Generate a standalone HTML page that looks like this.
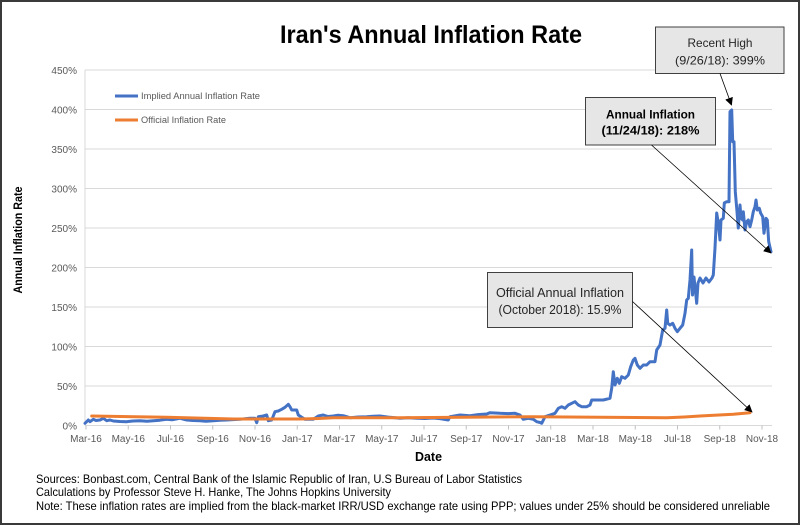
<!DOCTYPE html>
<html><head><meta charset="utf-8"><style>
html,body{margin:0;padding:0;background:#fff;}
svg{display:block;}
</style></head><body>
<svg width="800" height="525" viewBox="0 0 800 525" xmlns="http://www.w3.org/2000/svg" font-family="'Liberation Sans', sans-serif">
<defs>
<marker id="ah" viewBox="0 0 10 10" refX="9" refY="5" markerWidth="8" markerHeight="8" markerUnits="userSpaceOnUse" orient="auto"><path d="M0,0 L10,5 L0,10 z" fill="#000"/></marker>
</defs>
<rect x="0" y="0" width="800" height="525" fill="#fff"/>
<rect x="1" y="1" width="798" height="523" fill="none" stroke="#3a3a3a" stroke-width="2"/>

<text x="280" y="43" font-size="25" font-weight="bold" fill="#000" textLength="302" lengthAdjust="spacingAndGlyphs">Iran's Annual Inflation Rate</text>

<g stroke="#d9d9d9" stroke-width="1">
<line x1="85" y1="70" x2="772" y2="70"/>
<line x1="85" y1="109.5" x2="772" y2="109.5"/>
<line x1="85" y1="149" x2="772" y2="149"/>
<line x1="85" y1="188.5" x2="772" y2="188.5"/>
<line x1="85" y1="228" x2="772" y2="228"/>
<line x1="85" y1="267.5" x2="772" y2="267.5"/>
<line x1="85" y1="307" x2="772" y2="307"/>
<line x1="85" y1="346.5" x2="772" y2="346.5"/>
<line x1="85" y1="386" x2="772" y2="386"/>
<line x1="85" y1="425.5" x2="772" y2="425.5"/>
<line x1="85" y1="70" x2="85" y2="425.5"/>
</g>
<g stroke="#bfbfbf" stroke-width="1">
<line x1="86" y1="425.5" x2="86" y2="429.5"/><line x1="128.25" y1="425.5" x2="128.25" y2="429.5"/><line x1="170.5" y1="425.5" x2="170.5" y2="429.5"/><line x1="212.75" y1="425.5" x2="212.75" y2="429.5"/><line x1="255" y1="425.5" x2="255" y2="429.5"/><line x1="297.25" y1="425.5" x2="297.25" y2="429.5"/><line x1="339.5" y1="425.5" x2="339.5" y2="429.5"/><line x1="381.75" y1="425.5" x2="381.75" y2="429.5"/><line x1="424" y1="425.5" x2="424" y2="429.5"/><line x1="466.25" y1="425.5" x2="466.25" y2="429.5"/><line x1="508.5" y1="425.5" x2="508.5" y2="429.5"/><line x1="550.75" y1="425.5" x2="550.75" y2="429.5"/><line x1="593" y1="425.5" x2="593" y2="429.5"/><line x1="635.25" y1="425.5" x2="635.25" y2="429.5"/><line x1="677.5" y1="425.5" x2="677.5" y2="429.5"/><line x1="719.75" y1="425.5" x2="719.75" y2="429.5"/><line x1="762" y1="425.5" x2="762" y2="429.5"/>
</g>

<g font-size="10" fill="#595959" text-anchor="end">
<text x="77" y="74">450%</text>
<text x="77" y="113.5">400%</text>
<text x="77" y="153">350%</text>
<text x="77" y="192.5">300%</text>
<text x="77" y="232">250%</text>
<text x="77" y="271.5">200%</text>
<text x="77" y="311">150%</text>
<text x="77" y="350.5">100%</text>
<text x="77" y="390">50%</text>
<text x="77" y="429.5">0%</text>
</g>
<g font-size="10" fill="#595959" text-anchor="middle">
<text x="86" y="442">Mar-16</text><text x="128.25" y="442">May-16</text><text x="170.5" y="442">Jul-16</text><text x="212.75" y="442">Sep-16</text><text x="255" y="442">Nov-16</text><text x="297.25" y="442">Jan-17</text><text x="339.5" y="442">Mar-17</text><text x="381.75" y="442">May-17</text><text x="424" y="442">Jul-17</text><text x="466.25" y="442">Sep-17</text><text x="508.5" y="442">Nov-17</text><text x="550.75" y="442">Jan-18</text><text x="593" y="442">Mar-18</text><text x="635.25" y="442">May-18</text><text x="677.5" y="442">Jul-18</text><text x="719.75" y="442">Sep-18</text><text x="762" y="442">Nov-18</text>
</g>

<text transform="translate(22,240) rotate(-90)" text-anchor="middle" font-size="12" font-weight="bold" fill="#000" textLength="107" lengthAdjust="spacingAndGlyphs">Annual Inflation Rate</text>
<text x="415" y="461" font-size="13" font-weight="bold" fill="#000" textLength="27" lengthAdjust="spacingAndGlyphs">Date</text>

<line x1="115" y1="96" x2="138" y2="96" stroke="#4472c4" stroke-width="3"/>
<text x="141" y="99" font-size="9" fill="#595959" textLength="119" lengthAdjust="spacingAndGlyphs">Implied Annual Inflation Rate</text>
<line x1="115" y1="120" x2="138" y2="120" stroke="#ed7d31" stroke-width="3"/>
<text x="141" y="123" font-size="9" fill="#595959" textLength="85" lengthAdjust="spacingAndGlyphs">Official Inflation Rate</text>

<polyline fill="none" stroke="#4472c4" stroke-width="3" stroke-linejoin="round" stroke-linecap="round" points="85,423.3 88.3,420 90,421.7 93.3,419.3 96,420.5 100,420 103.3,418.3 106.7,420.7 110,420 113.3,421 120,421.5 126.7,421.7 133,421 140,420.7 147,421.2 153.3,420.7 160,420.2 166.7,419.3 172,419.8 180,418.3 186.7,420 193,420.5 200,420.7 206,421.2 213.3,420.7 220,420.3 226.7,420 233,419.6 240,419.3 250,418.3 255,418.3 256.7,422.7 258.3,416.7 263.3,416 266.7,415 268.3,420.7 271.7,420 275,411.7 278.3,411 281.7,409.3 285,407.3 288.3,404.3 290,406.7 291.7,410 296.7,410 298.3,415 301.7,417.3 305,419.3 313.3,419.3 318.3,416 323.3,415 328,416.5 333.3,416 338,415.2 343.3,415.7 350,417.7 358,417 366.7,416.7 373,416.3 380,416 390,417.3 400,418.3 408,417.8 416.7,418.3 425,418.5 433,418 440,418.6 448.3,420 450,416.7 460,415 470,415.7 478,414.6 486.7,414 490,412.7 500,413.3 508,413.6 515,413.3 520,415 523.3,419.3 528.3,418.3 533.3,419.3 536.7,421.7 540,422.5 541.7,423.3 545,416.7 550,415 555,413.3 558.3,408.3 561.7,406.7 565,408.3 568.3,405 571.7,403.3 575,401.7 578.3,405 581.7,406.7 586.7,406.7 590,405 591.7,400 596.7,400 603.3,400 610,398.3 611.7,388.3 613.3,371.7 615,385 617.3,378.3 619.3,383.3 621.7,376.7 625,378.3 628.3,375 630.7,366.7 633.3,360 635,358.3 637.3,365 640,368.3 643.3,365 646.7,365 650,361.7 655,361.7 656.7,350 660,345 662.7,330 665,328.3 666.7,310 667.7,323.3 670,325 672.7,323.3 675,328.3 677.3,331.7 680,328.3 682.7,325 685,313.3 686.7,300 688.3,298.3 690,280 691.7,250 692.5,295 694,277 696.7,303.3 698,283 700,278 703,283 706,278 709,282 712,278 713.3,275 715,248 716.7,213 718.3,223 720,240 721,220 723.3,218.3 724.3,203 726.7,201.7 729,201.7 730,111.7 731.7,110 732.7,141.7 734,141.7 735.3,191.7 736.7,208 738.3,228 740,205 741,218 742.7,220 743.3,211.7 745,230 746.7,221.7 748.3,220 750,226.7 751.7,220 753.3,211.7 755,206.7 756,200 757.3,210 759.3,208.3 760.7,213.3 762.7,216.7 764,233.3 766,218.3 767.3,220 768.7,241.7 771,251.7"/>

<path fill="none" stroke="#ed7d31" stroke-width="3" stroke-linecap="round" d="M91.7,416 C130,416.6 166.7,417.3 166.7,417.3 S233.3,419 233.3,419 L300,419 C320,418.5 333.3,417.7 333.3,417.7 L400,417.7 L533.3,416.7 L600,417.3 L666.7,417.7 C685,417.2 700,416 700,416 C715,415.3 733.3,414.3 733.3,414.3 L750,412.7"/>

<rect x="655.5" y="27" width="128.5" height="46.5" fill="#e7e6e6" stroke="#404040" stroke-width="1"/>
<text x="720" y="47" font-size="12" fill="#262626" text-anchor="middle" textLength="65" lengthAdjust="spacingAndGlyphs">Recent High</text>
<text x="720" y="64.5" font-size="12" fill="#262626" text-anchor="middle" textLength="90" lengthAdjust="spacingAndGlyphs">(9/26/18): 399%</text>

<rect x="585.5" y="97.5" width="130" height="47.5" fill="#e7e6e6" stroke="#404040" stroke-width="1"/>
<text x="650.5" y="118.5" font-size="12" font-weight="bold" fill="#000" text-anchor="middle" textLength="89" lengthAdjust="spacingAndGlyphs">Annual Inflation</text>
<text x="650.5" y="134.5" font-size="12" font-weight="bold" fill="#000" text-anchor="middle" textLength="98" lengthAdjust="spacingAndGlyphs">(11/24/18): 218%</text>

<rect x="487.5" y="272.5" width="145" height="55" fill="#e7e6e6" stroke="#404040" stroke-width="1"/>
<text x="560" y="297" font-size="12.5" fill="#262626" text-anchor="middle" textLength="128" lengthAdjust="spacingAndGlyphs">Official Annual Inflation</text>
<text x="560" y="314" font-size="12.5" fill="#262626" text-anchor="middle" textLength="123" lengthAdjust="spacingAndGlyphs">(October 2018): 15.9%</text>

<g stroke="#000" stroke-width="0.8" fill="none">
<line x1="720" y1="73.5" x2="731.5" y2="105" marker-end="url(#ah)"/>
<line x1="651.5" y1="145" x2="771" y2="253" marker-end="url(#ah)"/>
<line x1="632.5" y1="301.5" x2="752" y2="412" marker-end="url(#ah)"/>
</g>

<g font-size="12" fill="#000">
<text x="36" y="483" textLength="486" lengthAdjust="spacingAndGlyphs">Sources: Bonbast.com, Central Bank of the Islamic Republic of Iran, U.S Bureau of Labor Statistics</text>
<text x="36" y="496" textLength="355" lengthAdjust="spacingAndGlyphs">Calculations by Professor Steve H. Hanke, The Johns Hopkins University</text>
<text x="36" y="510" textLength="734" lengthAdjust="spacingAndGlyphs">Note: These inflation rates are implied from the black-market IRR/USD exchange rate using PPP; values under 25% should be considered unreliable</text>
</g>
</svg>
</body></html>
